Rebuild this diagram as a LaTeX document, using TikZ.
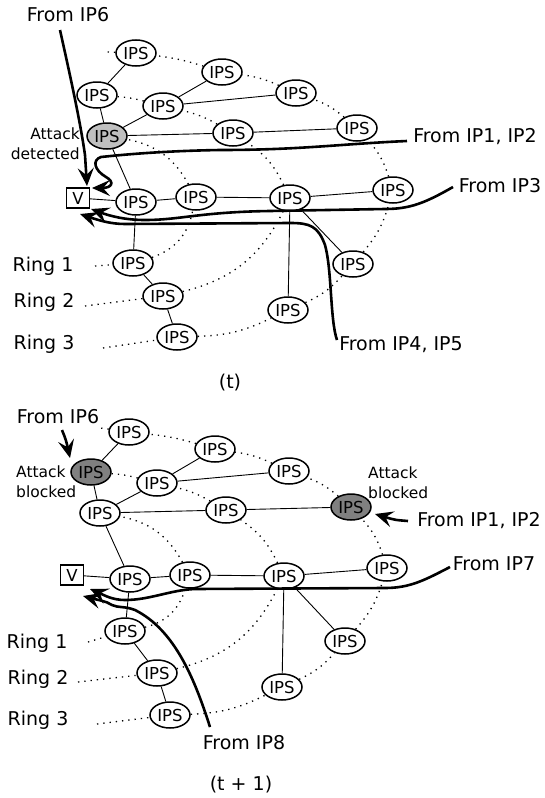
\documentclass[tikz,border=0pt]{standalone}
\usepackage{fontspec}
\setmainfont{DejaVu Sans}
\usetikzlibrary{arrows.meta,shapes.geometric}
\begin{document}
\begin{tikzpicture}[x=1pt,y=-1pt,
  ips/.style={ellipse,draw,line width=1.5pt,minimum width=40pt,minimum height=26pt,inner sep=0pt,fill=white,font=\fontsize{16.5}{16.5}\selectfont},
  vbox/.style={rectangle,draw,line width=1.2pt,minimum width=23pt,minimum height=20pt,inner sep=0pt,fill=white,font=\fontsize{16.5}{16.5}\selectfont},
  lab/.style={inner sep=0pt,anchor=base,font=\fontsize{19}{19}\selectfont},
  note/.style={inner sep=0pt,font=\fontsize{15.5}{20}\selectfont},
  edge/.style={line width=0.9pt},
  ring/.style={line width=1.3pt,dash pattern=on 1.3pt off 5pt},
  flow/.style={line width=2.6pt,-{Stealth[length=18pt,width=16pt,inset=7pt]}},
]
\useasboundingbox (0,0) rectangle (544,798);

% ================= (t) =================
\node[ips] (tA1) at (136,53) {IPS};
\node[ips] (tA2) at (222,72) {IPS};
\node[ips] (tA3) at (296,93) {IPS};
\node[ips] (tA4) at (357,128) {IPS};
\node[ips] (tA5) at (393,190) {IPS};
\node[ips] (tA6) at (353,264) {IPS};
\node[ips] (tA7) at (288,310) {IPS};
\node[ips] (tA8) at (177,337) {IPS};
\node[ips] (tB1) at (97,95) {IPS};
\node[ips] (tB2) at (163,106) {IPS};
\node[ips] (tB3) at (233,133) {IPS};
\node[ips] (tB4) at (290,198) {IPS};
\node[ips] (tB5) at (163,296) {IPS};
\node[ips,fill=gray!50] (tC1) at (107,136) {IPS};
\node[ips] (tC2) at (196,197) {IPS};
\node[ips] (tC3) at (133,263) {IPS};
\node[ips] (tD) at (136,202) {IPS};
\node[vbox] (tV) at (78,198) {V};

\coordinate (tr0) at (107,52);
\coordinate (tr1) at (95,266);
\coordinate (tr2) at (85,306);
\coordinate (tr3) at (103,348);

\draw[ring] (tr3) -- (tA8);
\draw[ring] (tA8) to[bend right=12] (tA7);
\draw[ring] (tA7) to[bend right=12] (tA6);
\draw[ring] (tA6) to[bend right=12] (tA5);
\draw[ring] (tA5) to[bend right=12] (tA4);
\draw[ring] (tA4) to[bend right=10] (tA3);
\draw[ring] (tA3) to[bend right=8] (tA2);
\draw[ring] (tA2) to[bend right=5] (tA1);
\draw[ring] (tA1) -- (tr0);
\draw[ring] (tr2) -- (tB5);
\draw[ring] (tB5) to[bend right=25] (tB4);
\draw[ring] (tB4) to[bend right=15] (tB3);
\draw[ring] (tB3) to[bend right=8] (tB2);
\draw[ring] (tB2) to[bend right=5] (tB1);
\draw[ring] (tr1) -- (tC3);
\draw[ring] (tC3) to[bend right=30] (tC2);
\draw[ring] (tC2) to[bend right=25] (tC1);

\draw[edge] (tA1) -- (tB1);
\draw[edge] (tB1) -- (tC1);
\draw[edge] (tC1) -- (tB2);
\draw[edge] (tB2) -- (tA2);
\draw[edge] (tB2) -- (tA3);
\draw[edge] (tC1) -- (tB3);
\draw[edge] (tB3) -- (tA4);
\draw[edge] (tC1) -- (tD);
\draw[edge] (tV) -- (tD);
\draw[edge] (tD) -- (tC2);
\draw[edge] (tC2) -- (tB4);
\draw[edge] (tB4) -- (tA5);
\draw[edge] (tB4) -- (tA6);
\draw[edge] (tB4) -- (tA7);
\draw[edge] (tD) -- (tC3);
\draw[edge] (tC3) -- (tB5);
\draw[edge] (tB5) -- (tA8);

\node[lab] (tIP6) at (68,21) {From IP6};
\node[lab] (tIP12) at (475,142) {From IP1, IP2};
\node[lab] (tIP3) at (500,192) {From IP3};
\node[lab] (tIP45) at (401,350) {From IP4, IP5};
\node[note,anchor=north east,align=right] (tdet) at (80,128) {Attack\\detected};
\node[lab] (tR1) at (43,271) {Ring 1};
\node[lab] (tR2) at (44,307) {Ring 2};
\node[lab] (tR3) at (44,349) {Ring 3};
\node[lab] (tcap) at (230,388) {(t)};

\coordinate (tf1s) at (60,30);
\coordinate (tf1e) at (87,186);
\coordinate (tf2s) at (407,141);
\coordinate (tf2e) at (92,188);
\coordinate (tf3s) at (453,187);
\coordinate (tf3e) at (91,209);
\coordinate (tf4s) at (337,340);
\coordinate (tf4e) at (80,214);

\draw[flow] (tf1s) .. controls (70,75) and (80,120) .. (85,155) -- (tf1e);
\draw[flow] (tf2s) .. controls (340,144) and (300,150) .. (220,150)
  .. controls (160,151) and (120,155) .. (101,157)
  .. controls (92,160) and (94,170) .. (106,177)
  .. controls (115,182) and (112,188) .. (tf2e);
\draw[flow] (tf3s) .. controls (425,203) and (410,209) .. (385,209) -- (270,211)
  .. controls (200,212) and (180,220) .. (145,220)
  .. controls (125,220) and (110,216) .. (tf3e);
\draw[flow] (tf4s) .. controls (330,320) and (332,270) .. (325,245)
  .. controls (318,226) and (310,223) .. (290,223) -- (125,224)
  .. controls (110,224) and (98,220) .. (tf4e);

% ================= (t + 1) =================
\node[ips] (bA1) at (129,432) {IPS};
\node[ips] (bA2) at (215,449) {IPS};
\node[ips] (bA3) at (289,471) {IPS};
\node[ips,fill=gray] (bA4) at (351,507) {IPS};
\node[ips] (bA5) at (387,568) {IPS};
\node[ips] (bA6) at (345,641) {IPS};
\node[ips] (bA7) at (282,687) {IPS};
\node[ips] (bA8) at (170,715) {IPS};
\node[ips,fill=gray] (bB1) at (91,472) {IPS};
\node[ips] (bB2) at (157,483) {IPS};
\node[ips] (bB3) at (226,510) {IPS};
\node[ips] (bB4) at (284,576) {IPS};
\node[ips] (bB5) at (157,673) {IPS};
\node[ips] (bC1) at (100,513) {IPS};
\node[ips] (bC2) at (190,575) {IPS};
\node[ips] (bC3) at (125,631) {IPS};
\node[ips] (bD) at (130,579) {IPS};
\node[vbox] (bV) at (72,575) {V};

\coordinate (br0) at (100,428);
\coordinate (br1) at (88,642);
\coordinate (br2) at (78,682);
\coordinate (br3) at (97,724);

\draw[ring] (br3) -- (bA8);
\draw[ring] (bA8) to[bend right=12] (bA7);
\draw[ring] (bA7) to[bend right=12] (bA6);
\draw[ring] (bA6) to[bend right=12] (bA5);
\draw[ring] (bA5) to[bend right=12] (bA4);
\draw[ring] (bA4) to[bend right=10] (bA3);
\draw[ring] (bA3) to[bend right=8] (bA2);
\draw[ring] (bA2) to[bend right=5] (bA1);
\draw[ring] (bA1) -- (br0);
\draw[ring] (br2) -- (bB5);
\draw[ring] (bB5) to[bend right=25] (bB4);
\draw[ring] (bB4) to[bend right=15] (bB3);
\draw[ring] (bB3) to[bend right=8] (bB2);
\draw[ring] (bB2) to[bend right=5] (bB1);
\draw[ring] (br1) -- (bC3);
\draw[ring] (bC3) to[bend right=30] (bC2);
\draw[ring] (bC2) to[bend right=25] (bC1);

\draw[edge] (bA1) -- (bB1);
\draw[edge] (bB1) -- (bC1);
\draw[edge] (bC1) -- (bB2);
\draw[edge] (bB2) -- (bA2);
\draw[edge] (bB2) -- (bA3);
\draw[edge] (bC1) -- (bB3);
\draw[edge] (bB3) -- (bA4);
\draw[edge] (bC1) -- (bD);
\draw[edge] (bV) -- (bD);
\draw[edge] (bD) -- (bC2);
\draw[edge] (bC2) -- (bB4);
\draw[edge] (bB4) -- (bA5);
\draw[edge] (bB4) -- (bA6);
\draw[edge] (bB4) -- (bA7);
\draw[edge] (bD) -- (bC3);
\draw[edge] (bC3) -- (bB5);
\draw[edge] (bB5) -- (bA8);

\node[lab] (bIP6) at (58,423) {From IP6};
\node[lab] (bIP12) at (479,526) {From IP1, IP2};
\node[lab] (bIP7) at (494,570) {From IP7};
\node[lab] (bIP8) at (244,749) {From IP8};
\node[note,anchor=north west,align=left] (bbl1) at (16,466) {Attack\\blocked};
\node[note,anchor=north west,align=left] (bbl2) at (368,467) {Attack\\blocked};
\node[lab] (bR1) at (37,648) {Ring 1};
\node[lab] (bR2) at (38,684) {Ring 2};
\node[lab] (bR3) at (38,725) {Ring 3};
\node[lab] (bcap) at (241,790) {(t + 1)};

\coordinate (bf1s) at (62,430);
\coordinate (bf1e) at (70,458);
\coordinate (bf2s) at (408,521);
\coordinate (bf2e) at (375,514);
\coordinate (bf3s) at (450,567);
\coordinate (bf3e) at (90,589);
\coordinate (bf4s) at (210,727);
\coordinate (bf4e) at (83,596);

\draw[flow] (bf1s) .. controls (66,440) .. (bf1e);
\draw[flow] (bf2s) .. controls (395,520) .. (bf2e);
\draw[flow] (bf3s) .. controls (425,580) and (410,588) .. (385,588) -- (195,589)
  .. controls (170,590) and (150,600) .. (125,600)
  .. controls (112,600) and (104,595) .. (bf3e);
\draw[flow] (bf4s) .. controls (195,680) and (175,630) .. (135,610)
  .. controls (125,606) and (118,608) .. (112,605)
  .. controls (106,601) and (98,600) .. (bf4e);
\end{tikzpicture}
\end{document}
